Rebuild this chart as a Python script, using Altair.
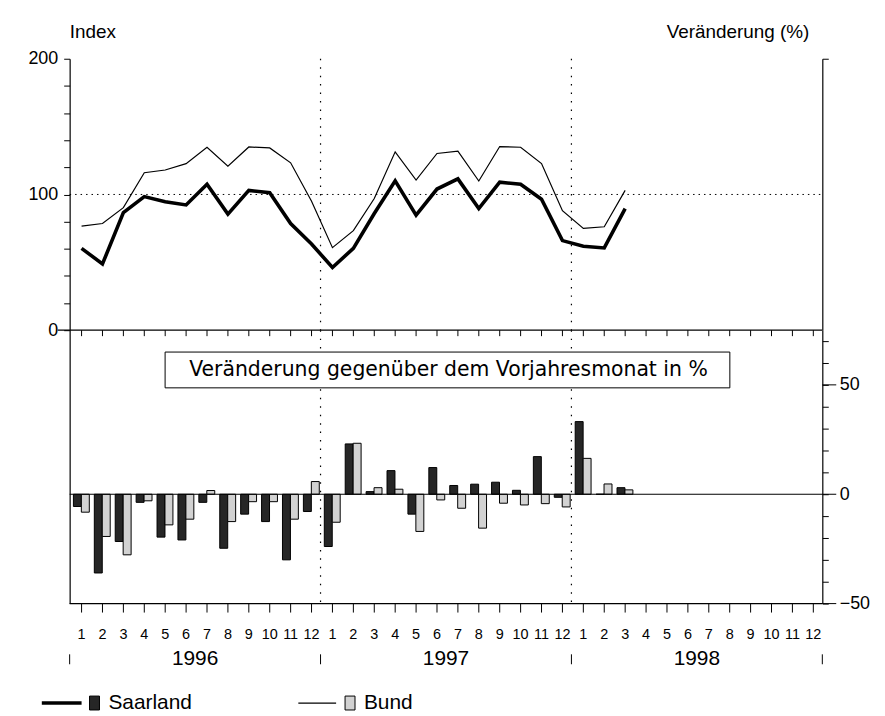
import altair as alt
import pandas as pd

# ---------------- data ----------------
years = ["1996", "1997", "1998"]
month_labels = ["1", "2", "3", "4", "5", "6", "7", "8", "9", "10", "11", "12"]
series_names = ["Saarland", "Bund"]

saarland_index = [60.3, 48.8, 86.7, 98.4, 94.7, 92.3, 107.5, 85.5, 103.0, 101.3, 78.6, 63.5,
                  46.2, 60.3, 86.0, 110.0, 84.8, 104.0, 111.5, 89.6, 109.0, 107.5, 96.5, 66.0,
                  61.8, 60.6, 89.6]
bund_index = [76.7, 78.6, 90.3, 116.0, 118.0, 122.7, 134.8, 120.9, 135.0, 134.3, 123.3, 95.0,
              60.8, 73.3, 97.0, 131.4, 110.6, 130.2, 131.9, 109.9, 135.3, 134.8, 122.8, 88.0,
              75.0, 76.2, 103.0]
saarland_change = [-5.6, -36.0, -21.6, -3.7, -19.6, -20.9, -3.7, -24.7, -9.1, -12.5, -30.0, -7.9,
                   -23.9, 23.0, 1.2, 10.8, -9.1, 12.2, 4.0, 4.6, 5.5, 1.8, 17.2, -1.4,
                   33.2, 0.0, 3.0]
bund_change = [-8.2, -19.3, -27.7, -3.0, -14.0, -11.4, 1.7, -12.5, -3.4, -3.4, -11.4, 5.8,
               -12.8, 23.3, 3.0, 2.3, -17.0, -2.6, -6.4, -15.5, -4.1, -4.9, -4.3, -5.8,
               16.4, 4.7, 2.0]

index_ticks = [0, 20, 40, 60, 80, 100, 120, 140, 160, 180, 200]
change_ticks = [-50, -40, -30, -20, -10, 0, 10, 20, 30, 40, 50, 60, 70]
change_major = [-50, 50]
box_title = "Veränderung gegenüber dem Vorjahresmonat in %"
title_left = "Index"
title_right = "Veränderung (%)"

# ---------------- layout constants ----------------
W = 757
H1 = 273
H2 = 275
OFF = 0.57
NM = len(years) * len(month_labels)
FONT = "Liberation Sans"
PAD_L, PAD_T, PAD_R, PAD_B = 62, 49, 55, 108

n = len(saarland_index)
ts = list(range(n))

idx_df = pd.DataFrame({
    "t": ts + ts,
    "value": saarland_index + bund_index,
    "series": [series_names[0]] * n + [series_names[1]] * n,
})
idx_df["xpos"] = idx_df["t"] + OFF

bar_df = pd.DataFrame({
    "t": ts + ts,
    "value": saarland_change + bund_change,
    "series": [series_names[0]] * n + [series_names[1]] * n,
})
bar_df["b0"] = bar_df["t"] + bar_df["series"].map({series_names[0]: 0.18, series_names[1]: 0.56})
bar_df["b1"] = bar_df["b0"] + 0.38

month_df = pd.DataFrame({
    "m": [i + OFF for i in range(NM)],
    "label": month_labels * len(years),
})
sep_df = pd.DataFrame({"t": [12 * i for i in range(1, len(years))]})
yearsep_df = pd.DataFrame({"t": [12 * i for i in range(len(years) + 1)]})
year_df = pd.DataFrame({"t": [12 * i + 6 for i in range(len(years))], "year": years})

xs = alt.Scale(domain=[0, NM], nice=False, zero=False)
ys_top = alt.Scale(domain=[0, 200], nice=False)
ys_bot = alt.Scale(domain=[-50, 75], nice=False)

one = pd.DataFrame({"a": [0]})

# ---------------- top panel ----------------
lines = alt.Chart(idx_df).mark_line(color="black", strokeJoin="miter").encode(
    x=alt.X("xpos:Q", scale=xs, axis=None),
    y=alt.Y("value:Q", scale=ys_top, axis=alt.Axis(
        orient="left", values=index_ticks, tickSize=6, grid=False, title=None,
        labelExpr="datum.value % 100 == 0 ? datum.label : ''",
        labelFontSize=18, labelPadding=6)),
    strokeWidth=alt.StrokeWidth("series:N", scale=alt.Scale(domain=series_names, range=[3.6, 1.2]),
                                legend=None),
    detail="series:N",
)

hline = alt.Chart(pd.DataFrame({"y": [100]})).mark_rule(
    color="black", strokeDash=[1.5, 4], strokeWidth=1
).encode(
    y=alt.Y("y:Q", scale=ys_top, axis=alt.Axis(orient="right", values=[200], labels=False,
                                                tickSize=6, grid=False, title=None)),
    x=alt.value(0), x2=alt.value(W),
)

# bottom frame line of the upper panel and its month ticks
top_base = alt.Chart(one).mark_rule(color="black", strokeWidth=1.2).encode(
    x=alt.value(-12), x2=alt.value(W), y=alt.value(H1))
top_ticks = alt.Chart(month_df).mark_rule(color="black", strokeWidth=1).encode(
    x=alt.X("m:Q", scale=xs, axis=None), y=alt.value(H1), y2=alt.value(H1 + 6))

vsep_top = alt.Chart(sep_df).mark_rule(color="black", strokeDash=[1.5, 7], strokeWidth=1.2).encode(
    x=alt.X("t:Q", scale=xs, axis=None), y=alt.value(0), y2=alt.value(H1),
)

titles = alt.Chart(one).mark_text(
    fontSize=19, font=FONT, align="left", baseline="middle", color="black"
).encode(x=alt.value(0), y=alt.value(-27), text=alt.value(title_left))
titles_r = alt.Chart(one).mark_text(
    fontSize=19, font=FONT, align="right", baseline="middle", color="black"
).encode(x=alt.value(W - 13), y=alt.value(-27), text=alt.value(title_right))

anchor_top = alt.Chart(one).mark_rule(strokeOpacity=0, opacity=0).encode(
    x=alt.value(-PAD_L), x2=alt.value(W + PAD_R), y=alt.value(-PAD_T))

top = alt.layer(anchor_top, hline, vsep_top, lines, top_base, top_ticks, titles, titles_r).properties(
    width=W, height=H1)

# ---------------- bottom panel ----------------
bars = alt.Chart(bar_df).mark_bar(stroke="black", strokeWidth=1).encode(
    x=alt.X("b0:Q", scale=xs, axis=None),
    x2="b1:Q",
    y=alt.Y("value:Q", scale=ys_bot, axis=alt.Axis(orient="left", ticks=False, labels=False,
                                                    grid=False, title=None)),
    y2=alt.datum(0),
    fill=alt.Fill("series:N", scale=alt.Scale(domain=series_names, range=["#262626", "#d2d2d2"]),
                  legend=None),
)

zero = alt.Chart(pd.DataFrame({"y": [0]})).mark_rule(color="black", strokeWidth=1.2).encode(
    y=alt.Y("y:Q", scale=ys_bot, axis=alt.Axis(
        orient="right", values=change_ticks, tickSize=6, grid=False, title=None,
        labelExpr="datum.value % 50 == 0 ? datum.label : ''",
        labelFontSize=18, labelPadding=11)),
    x=alt.value(0), x2=alt.value(W + 14),
)

majors = alt.Chart(pd.DataFrame({"y": change_major})).mark_rule(color="black", strokeWidth=1).encode(
    y=alt.Y("y:Q", scale=ys_bot, axis=None), x=alt.value(W), x2=alt.value(W + 14),
)

bot_base = alt.Chart(one).mark_rule(color="black", strokeWidth=1.2).encode(
    x=alt.value(0), x2=alt.value(W), y=alt.value(H2))
bot_ticks = alt.Chart(month_df).mark_rule(color="black", strokeWidth=1).encode(
    x=alt.X("m:Q", scale=xs, axis=None), y=alt.value(H2), y2=alt.value(H2 + 9))
bot_labels = alt.Chart(month_df).mark_text(
    fontSize=14.5, font=FONT, align="center", baseline="middle", color="black"
).encode(x=alt.X("m:Q", scale=xs, axis=None), y=alt.value(H2 + 32), text="label:N")

vsep_bot = alt.Chart(sep_df).mark_rule(color="black", strokeDash=[1.5, 7], strokeWidth=1.2).encode(
    x=alt.X("t:Q", scale=xs, axis=None), y=alt.value(0), y2=alt.value(H2),
)

box = alt.Chart(one).mark_rect(fill="white", stroke="black", strokeWidth=1).encode(
    x=alt.value(96), x2=alt.value(664), y=alt.value(22), y2=alt.value(58),
)
box_text = alt.Chart(one).mark_text(
    fontSize=20.5, font="DejaVu Sans", align="center", baseline="middle", color="black"
).encode(x=alt.value(381), y=alt.value(40), text=alt.value(box_title))

year_text = alt.Chart(year_df).mark_text(
    fontSize=21, font=FONT, align="center", baseline="middle", color="black"
).encode(x=alt.X("t:Q", scale=xs, axis=None), y=alt.value(H2 + 56), text="year:N")

year_sep = alt.Chart(yearsep_df).mark_rule(color="black", strokeWidth=1).encode(
    x=alt.X("t:Q", scale=xs, axis=None), y=alt.value(H2 + 51), y2=alt.value(H2 + 61),
)

# legend (drawn by hand)
LY = H2 + 100
leg_line1 = alt.Chart(one).mark_rule(color="black", strokeWidth=3.6).encode(
    x=alt.value(-28), x2=alt.value(12), y=alt.value(LY))
leg_sq1 = alt.Chart(one).mark_rect(fill="#262626", stroke="black").encode(
    x=alt.value(20), x2=alt.value(30), y=alt.value(LY - 7), y2=alt.value(LY + 7))
leg_t1 = alt.Chart(one).mark_text(
    fontSize=21, font=FONT, align="left", baseline="middle", color="black"
).encode(x=alt.value(39), y=alt.value(LY), text=alt.value(series_names[0]))
leg_line2 = alt.Chart(one).mark_rule(color="black", strokeWidth=1.2).encode(
    x=alt.value(230), x2=alt.value(268), y=alt.value(LY))
leg_sq2 = alt.Chart(one).mark_rect(fill="#d2d2d2", stroke="black").encode(
    x=alt.value(277), x2=alt.value(287), y=alt.value(LY - 7), y2=alt.value(LY + 7))
leg_t2 = alt.Chart(one).mark_text(
    fontSize=21, font=FONT, align="left", baseline="middle", color="black"
).encode(x=alt.value(296), y=alt.value(LY), text=alt.value(series_names[1]))

anchor_bot = alt.Chart(one).mark_rule(strokeOpacity=0, opacity=0).encode(
    x=alt.value(-PAD_L), x2=alt.value(W + PAD_R), y=alt.value(H2 + PAD_B))

bottom = alt.layer(
    anchor_bot, vsep_bot, bars, zero, majors, bot_base, bot_ticks, bot_labels,
    box, box_text, year_sep, year_text,
    leg_line1, leg_sq1, leg_t1, leg_line2, leg_sq2, leg_t2,
).properties(width=W, height=H2)

chart = alt.vconcat(top, bottom, spacing=0, bounds="flush").properties(
    padding=0,
).configure(font=FONT).configure_view(stroke=None, strokeWidth=0).configure_axis(
    labelFont=FONT, labelColor="black", domainColor="black", tickColor="black",
    domainWidth=1.2, tickWidth=1,
)

chart.save("out.html", embed_options={"renderer": "svg", "actions": False})
